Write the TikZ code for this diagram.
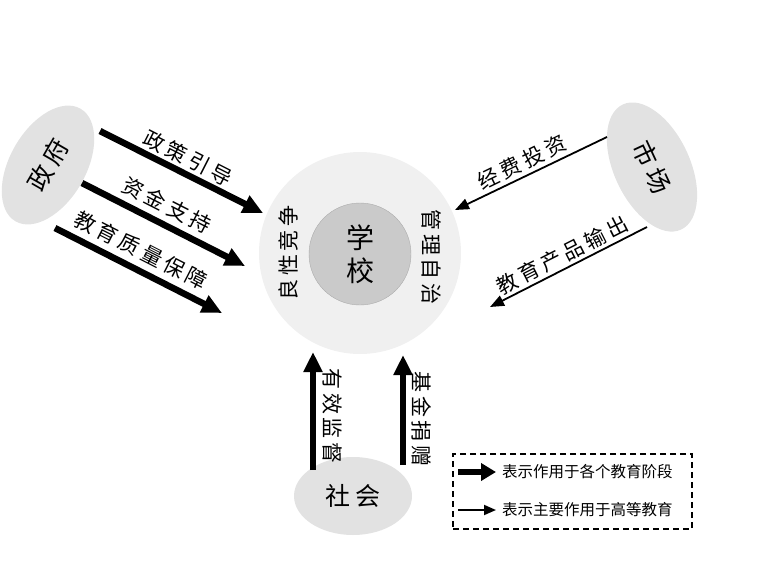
\documentclass[tikz,border=0pt]{standalone}
\usepackage{fontspec}
\usetikzlibrary{arrows.meta,shapes.geometric}
\newfontfamily\cjk{Noto Sans CJK SC}
\newfontfamily\cjksp[LetterSpace=18]{Noto Sans CJK SC}
\definecolor{actorgray}{RGB}{226,226,226}
\definecolor{ringgray}{RGB}{240,240,240}
\definecolor{coregray}{RGB}{202,202,202}

\begin{document}
\begin{tikzpicture}[x=1pt, y=-1pt,
    actor/.style={ellipse, fill=actorgray, inner sep=0pt, font=\cjksp\fontsize{25}{25}\selectfont},
    heavy/.style={line width=6.5pt, -{Triangle[length=20pt,width=18pt]}},
    light/.style={line width=1.8pt, -{Triangle[length=14pt,width=11pt]}},
    lab/.style={font=\cjksp\fontsize{21}{21}\selectfont, inner sep=0pt},
    legtext/.style={font=\cjk\fontsize{15.5}{15.5}\selectfont, anchor=west, inner sep=0pt}]
    \useasboundingbox (0,0) rectangle (761,568);

    % School in the middle
    \node[circle, fill=ringgray, minimum size=202pt, inner sep=0pt] (ring) at (360,253) {};
    \node[circle, fill=coregray, draw=coregray!85!black, minimum size=102pt, inner sep=0pt,
        align=center, font=\cjk\fontsize{28}{33}\selectfont] (school) at (360,254) {学\\校};
    \node[lab, rotate=90] (compete) at (288,253) {良性竞争};
    \node[lab, rotate=-90] (selfrule) at (432,257) {管理自治};

    % The three actors
    \node[actor, minimum width=130pt, minimum height=76pt, rotate=60] (gov) at (48,165) {政府};
    \node[actor, minimum width=138pt, minimum height=76pt, rotate=-65] (market) at (652,167) {市场};
    \node[actor, minimum width=118pt, minimum height=78pt] (society) at (353,496) {社会};

    % Government -> school
    \coordinate (g1s) at (100,131); \coordinate (g1e) at (263,213);
    \coordinate (g2s) at (82,183);  \coordinate (g2e) at (245,266);
    \coordinate (g3s) at (55,228);  \coordinate (g3e) at (222,313);
    \draw[heavy] (g1s) -- (g1e);
    \draw[heavy] (g2s) -- (g2e);
    \draw[heavy] (g3s) -- (g3e);
    \node[lab, rotate=-27] (policy) at (188,158) {政策引导};
    \node[lab, rotate=-27] (funds) at (167,205) {资金支持};
    \node[lab, rotate=-27] (quality) at (141,250) {教育质量保障};

    % Market -> school
    \coordinate (m1s) at (607,137); \coordinate (m1e) at (455,210);
    \coordinate (m2s) at (647,227); \coordinate (m2e) at (490,307);
    \draw[light] (m1s) -- (m1e);
    \draw[light] (m2s) -- (m2e);
    \node[lab, rotate=26] (invest) at (522,162) {经费投资};
    \node[lab, rotate=27] (output) at (562,255) {教育产品输出};

    % Society -> school
    \coordinate (s1s) at (313,470); \coordinate (s1e) at (313,352);
    \coordinate (s2s) at (403,465); \coordinate (s2e) at (403,355);
    \draw[heavy] (s1s) -- (s1e);
    \draw[heavy] (s2s) -- (s2e);
    \node[lab, rotate=-90] (watch) at (332,416) {有效监督};
    \node[lab, rotate=-90] (donate) at (422,419) {基金捐赠};

    % Legend
    \node[draw, dashed, line width=1.5pt, dash pattern=on 6pt off 4pt,
        minimum width=239pt, minimum height=75pt] (legend) at (572.5,491.5) {};
    \node[legtext] (leg1) at (502,472) {表示作用于各个教育阶段};
    \node[legtext] (leg2) at (502,510) {表示主要作用于高等教育};
    \draw[line width=6pt, -{Triangle[length=15pt,width=17pt]}] ([xshift=-44pt]leg1.west) -- ([xshift=-6pt]leg1.west);
    \draw[light, -{Triangle[length=12pt,width=10pt]}] ([xshift=-44pt]leg2.west) -- ([xshift=-6pt]leg2.west);
\end{tikzpicture}
\end{document}
